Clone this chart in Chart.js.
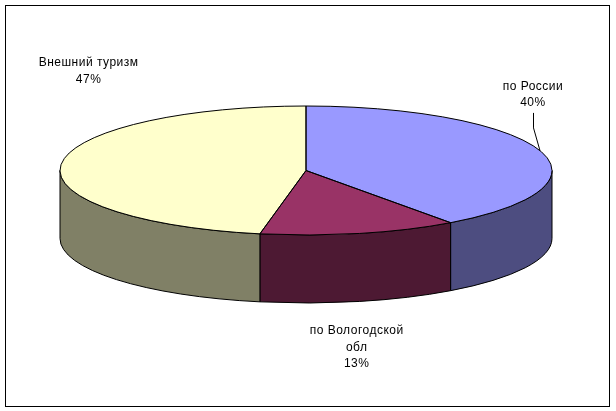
<!DOCTYPE html>
<html>
<head>
<meta charset="utf-8">
<script src="https://cdn.jsdelivr.net/npm/chart.js@4/dist/chart.umd.min.js"></script>
<style>
  html, body { margin: 0; padding: 0; background: #ffffff; }
  #wrap { width: 616px; height: 411px; }
</style>
</head>
<body>
<div id="wrap"><canvas id="c" width="616" height="411"></canvas></div>
<script>
// ---- data ----
const categories = [['по России'], ['по Вологодской', 'обл'], ['Внешний туризм']];
const values = [40, 13, 47];
const topColors = ['#9999FF', '#993366', '#FFFFCC'];
const sideColors = ['#4D4D80', '#4D1933', '#808066'];

// ---- 3D pie plugin ----
const pie3d = {
  id: 'pie3d',
  beforeDraw(chart, args, opts) {
    const ctx = chart.ctx;
    ctx.save();
    ctx.fillStyle = '#ffffff';
    ctx.fillRect(0, 0, chart.width, chart.height);
    ctx.strokeStyle = '#000000';
    ctx.lineWidth = 1;
    ctx.strokeRect(5.5, 5.5, 604, 401);
    ctx.restore();
  },
  beforeDatasetsDraw(chart, args, opts) {
    const ctx = chart.ctx;
    const arcs = chart.getDatasetMeta(0).data;
    if (!arcs.length) return;
    const cx = arcs[0].x, cy = arcs[0].y, rx = arcs[0].outerRadius;
    const k = opts.flatten, ry = rx * k, depth = opts.depth;
    // sides (front half only)
    ctx.save();
    ctx.lineWidth = 1;
    ctx.strokeStyle = '#000000';
    arcs.forEach((el, i) => {
      const a1 = Math.max(el.startAngle, 0);
      const a2 = Math.min(el.endAngle, Math.PI);
      if (a1 >= a2) return;
      ctx.beginPath();
      ctx.moveTo(cx + rx * Math.cos(a1), cy + ry * Math.sin(a1));
      ctx.ellipse(cx, cy, rx, ry, 0, a1, a2);
      ctx.lineTo(cx + rx * Math.cos(a2), cy + depth + ry * Math.sin(a2));
      ctx.ellipse(cx, cy + depth, rx, ry, 0, a2, a1, true);
      ctx.closePath();
      ctx.fillStyle = sideColors[i];
      ctx.fill();
      ctx.stroke();
    });
    ctx.restore();
    // flatten tops drawn by Chart.js
    ctx.save();
    ctx.translate(cx, cy);
    ctx.scale(1, k);
    ctx.translate(-cx, -cy);
  },
  afterDatasetsDraw(chart, args, opts) {
    const ctx = chart.ctx;
    ctx.restore();
    const arcs = chart.getDatasetMeta(0).data;
    if (!arcs.length) return;
    const cx = arcs[0].x, cy = arcs[0].y, rx = arcs[0].outerRadius;
    const k = opts.flatten, ry = rx * k;
    ctx.save();
    ctx.lineWidth = 1;
    ctx.strokeStyle = '#000000';
    arcs.forEach((el) => {
      ctx.beginPath();
      ctx.moveTo(cx, cy);
      ctx.lineTo(cx + rx * Math.cos(el.startAngle), cy + ry * Math.sin(el.startAngle));
      ctx.ellipse(cx, cy, rx, ry, 0, el.startAngle, el.endAngle);
      ctx.closePath();
      ctx.stroke();
    });
    // labels
    const total = values.reduce((a, b) => a + b, 0);
    ctx.fillStyle = '#000000';
    ctx.font = '12px "Liberation Sans", Arial, sans-serif';
    try { ctx.letterSpacing = '0.5px'; } catch (e) {}
    ctx.textAlign = 'center';
    ctx.textBaseline = 'middle';
    const lh = opts.lineHeight;
    arcs.forEach((el, i) => {
      const mid = (el.startAngle + el.endAngle) / 2;
      const mx = cx + rx * Math.cos(mid), my = cy + ry * Math.sin(mid);
      const off = opts.labelOffsets[i];
      const lx = mx + off[0], ly = my + off[1];
      const lines = categories[i].concat([Math.round(values[i] / total * 100) + '%']);
      const top = ly - (lines.length - 1) * lh / 2;
      lines.forEach((t, j) => ctx.fillText(t, lx, top + j * lh));
      if (opts.leaders[i]) {
        const by = top + (lines.length - 1) * lh + 10;
        ctx.beginPath();
        ctx.moveTo(Math.round(lx) + 0.5, by);
        ctx.lineTo(Math.round(lx) + 0.5, by + 15);
        ctx.lineTo(mx, my);
        ctx.stroke();
      }
    });
    ctx.restore();
  }
};

new Chart(document.getElementById('c'), {
  type: 'pie',
  data: {
    labels: categories.map(l => l.join(' ')),
    datasets: [{
      data: values,
      backgroundColor: topColors,
      borderWidth: 0,
      radius: 246,
      clip: false
    }]
  },
  options: {
    responsive: false,
    animation: false,
    devicePixelRatio: 1,
    layout: { padding: { left: 0, right: 4, top: 0, bottom: 70 } },
    plugins: {
      legend: { display: false },
      tooltip: { enabled: false },
      pie3d: {
        flatten: 64.5 / 246,
        depth: 68,
        lineHeight: 16.7,
        labelOffsets: [[-7, -56], [-3, 114], [27.5, -93]],
        leaders: [true, false, false]
      }
    }
  },
  plugins: [pie3d]
});
</script>
</body>
</html>
